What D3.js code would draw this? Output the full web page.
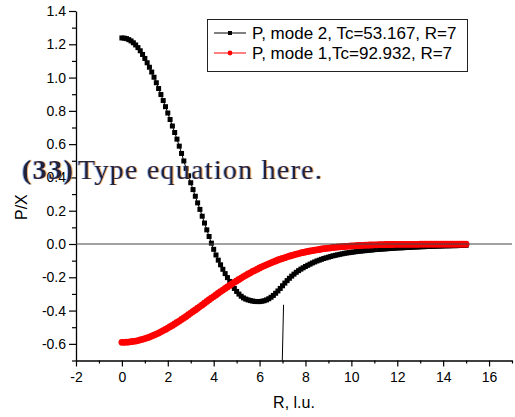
<!DOCTYPE html>
<html>
<head>
<meta charset="utf-8">
<script src="https://cdn.jsdelivr.net/npm/d3@7"></script>
<style>
  body { margin: 0; background: #fff; }
  svg { display: block; }
  .sans { font-family: "Liberation Sans", Arial, sans-serif; }
  .serif { font-family: "Liberation Serif", "Times New Roman", serif; }
</style>
</head>
<body>
<svg id="chart" width="515" height="417"></svg>
<script>
// Radial sampling grid (lattice units)
const radius = [
  0,0.1,0.2,0.3,0.4,0.5,0.6,0.7,0.8,0.9,1,1.1,1.2,1.3,1.4,1.5,1.6,1.7,1.8,1.9,
  2,2.1,2.2,2.3,2.4,2.5,2.6,2.7,2.8,2.9,3,3.1,3.2,3.3,3.4,3.5,3.6,3.7,3.8,3.9,
  4,4.1,4.2,4.3,4.4,4.5,4.6,4.7,4.8,4.9,5,5.1,5.2,5.3,5.4,5.5,5.6,5.7,5.8,5.9,
  6,6.1,6.2,6.3,6.4,6.5,6.6,6.7,6.8,6.9,7,7.1,7.2,7.3,7.4,7.5,7.6,7.7,7.8,7.9,
  8,8.1,8.2,8.3,8.4,8.5,8.6,8.7,8.8,8.9,9,9.1,9.2,9.3,9.4,9.5,9.6,9.7,9.8,9.9,
  10,10.1,10.2,10.3,10.4,10.5,10.6,10.7,10.8,10.9,11,11.1,11.2,11.3,11.4,11.5,11.6,11.7,11.8,11.9,
  12,12.1,12.2,12.3,12.4,12.5,12.6,12.7,12.8,12.9,13,13.1,13.2,13.3,13.4,13.5,13.6,13.7,13.8,13.9,
  14,14.1,14.2,14.3,14.4,14.5,14.6,14.7,14.8,14.9,15
];

// P, mode 2 (Tc = 53.167, R = 7)
const mode2P = [
  1.238,1.237,1.234,1.228,1.220,1.209,1.196,1.180,1.161,1.139,
  1.115,1.089,1.062,1.033,1.002,0.969,0.934,0.898,0.862,0.825,
  0.787,0.748,0.709,0.670,0.630,0.588,0.544,0.499,0.454,0.410,
  0.368,0.327,0.287,0.247,0.208,0.167,0.126,0.085,0.045,0.005,
  -0.032,-0.066,-0.097,-0.125,-0.152,-0.178,-0.202,-0.225,-0.247,-0.267,
  -0.285,-0.301,-0.314,-0.324,-0.331,-0.336,-0.340,-0.343,-0.345,-0.346,
  -0.346,-0.344,-0.341,-0.336,-0.329,-0.320,-0.309,-0.296,-0.282,-0.267,
  -0.251,-0.235,-0.220,-0.206,-0.193,-0.181,-0.170,-0.160,-0.151,-0.143,
  -0.135,-0.128,-0.121,-0.114,-0.108,-0.102,-0.097,-0.092,-0.087,-0.083,
  -0.079,-0.075,-0.071,-0.068,-0.065,-0.062,-0.059,-0.056,-0.054,-0.052,
  -0.050,-0.048,-0.046,-0.044,-0.043,-0.041,-0.040,-0.038,-0.037,-0.036,
  -0.034,-0.033,-0.032,-0.031,-0.030,-0.029,-0.028,-0.027,-0.026,-0.025,
  -0.024,-0.023,-0.023,-0.022,-0.021,-0.020,-0.020,-0.019,-0.018,-0.018,
  -0.017,-0.016,-0.016,-0.015,-0.015,-0.014,-0.014,-0.013,-0.013,-0.012,
  -0.012,-0.011,-0.011,-0.011,-0.010,-0.010,-0.010,-0.009,-0.009,-0.009,
  -0.008
];

// P, mode 1 (Tc = 92.932, R = 7)
const mode1P = [
  -0.591,-0.591,-0.590,-0.589,-0.587,-0.585,-0.583,-0.580,-0.576,-0.573,
  -0.568,-0.564,-0.559,-0.553,-0.547,-0.541,-0.535,-0.528,-0.520,-0.513,
  -0.505,-0.497,-0.489,-0.480,-0.471,-0.463,-0.453,-0.444,-0.435,-0.425,
  -0.415,-0.405,-0.396,-0.386,-0.376,-0.366,-0.356,-0.345,-0.335,-0.325,
  -0.316,-0.306,-0.296,-0.286,-0.277,-0.267,-0.258,-0.249,-0.239,-0.230,
  -0.222,-0.213,-0.205,-0.196,-0.188,-0.180,-0.173,-0.165,-0.158,-0.151,
  -0.144,-0.137,-0.131,-0.125,-0.119,-0.113,-0.107,-0.102,-0.096,-0.091,
  -0.087,-0.082,-0.077,-0.073,-0.069,-0.065,-0.061,-0.058,-0.054,-0.051,
  -0.048,-0.045,-0.042,-0.040,-0.037,-0.035,-0.033,-0.030,-0.028,-0.026,
  -0.025,-0.023,-0.021,-0.020,-0.018,-0.017,-0.016,-0.015,-0.014,-0.013,
  -0.012,-0.011,-0.010,-0.009,-0.009,-0.008,-0.007,-0.007,-0.006,-0.006,
  -0.005,-0.005,-0.004,-0.004,-0.004,-0.003,-0.003,-0.003,-0.003,-0.002,
  -0.002,-0.002,-0.002,-0.002,-0.002,-0.002,-0.002,-0.002,-0.002,-0.002,
  -0.001,-0.001,-0.001,-0.001,-0.001,-0.001,-0.001,-0.001,-0.001,-0.001,
  -0.001,-0.001,-0.001,-0.001,-0.001,-0.001,-0.001,-0.001,-0.001,-0.001,
  -0.001
];

// Pointer line near R = 7
const pointerR = [6.99, 7.045];
const pointerP = [-0.7, -0.365];

const xMajorTicks = [-2, 0, 2, 4, 6, 8, 10, 12, 14, 16];
const xMinorTicks = [-1, 1, 3, 5, 7, 9, 11, 13, 15, 17];
const yMajorTicks = [-0.6, -0.4, -0.2, 0, 0.2, 0.4, 0.6, 0.8, 1.0, 1.2, 1.4];
const yMinorTicks = [-0.7, -0.5, -0.3, -0.1, 0.1, 0.3, 0.5, 0.7, 0.9, 1.1, 1.3];

const seriesNames = ["P, mode 2, Tc=53.167, R=7", "P, mode 1,Tc=92.932, R=7"];
const seriesColors = ["#000000", "#ff0000"];
const xTitle = "R, l.u.";
const yTitle = "P/X";
const eqNumber = "(33)";
const eqText = "Type equation here.";

const svg = d3.select("#chart");
svg.append("rect").attr("width", 515).attr("height", 417).attr("fill", "#fff");

const x = d3.scaleLinear().domain([-2, 17]).range([76, 512]);
const y = d3.scaleLinear().domain([-0.7, 1.4]).range([360.5, 11]);

// Axes
const fmtY = v => v.toFixed(1);
const fmtX = v => String(v);

svg.append("g").attr("transform", "translate(76,0)")
  .call(d3.axisLeft(y).tickValues(yMajorTicks).tickFormat(fmtY)
    .tickSize(7).tickSizeOuter(0).tickPadding(3));
svg.append("g").attr("transform", "translate(76,0)")
  .call(d3.axisLeft(y).tickValues(yMinorTicks).tickFormat("")
    .tickSize(4).tickSizeOuter(0))
  .select(".domain").remove();

svg.append("g").attr("transform", "translate(0,360.5)")
  .call(d3.axisBottom(x).tickValues(xMajorTicks).tickFormat(fmtX)
    .tickSize(6).tickSizeOuter(0).tickPadding(6));
svg.append("g").attr("transform", "translate(0,360.5)")
  .call(d3.axisBottom(x).tickValues(xMinorTicks).tickFormat("")
    .tickSize(3).tickSizeOuter(0))
  .select(".domain").remove();

svg.selectAll(".domain").attr("stroke", "#000").attr("stroke-width", 1.3);
svg.selectAll(".tick line").attr("stroke", "#000").attr("stroke-width", 1.2);
svg.selectAll(".tick text")
  .attr("font-family", null)
  .attr("class", "sans")
  .attr("font-size", 14).attr("fill", "#000");

// Axis titles
svg.append("text").attr("class", "sans").attr("x", 294).attr("y", 408)
  .attr("text-anchor", "middle").attr("font-size", 16).text(xTitle);
svg.append("text").attr("class", "sans").attr("transform", "translate(27,220) rotate(-90)")
  .attr("text-anchor", "start").attr("font-size", 16).text(yTitle);

// Series
const ptsBlack = radius.map((r, i) => [r, mode2P[i]]);
const ptsRed = radius.map((r, i) => [r, mode1P[i]]);
const line = d3.line().x(d => x(d[0])).y(d => y(d[1]));

const gBlack = svg.append("g");
gBlack.append("path").datum(ptsBlack).attr("d", line)
  .attr("fill", "none").attr("stroke", seriesColors[0]).attr("stroke-width", 1);
gBlack.selectAll("rect").data(ptsBlack).join("rect")
  .attr("x", d => x(d[0]) - 2.5).attr("y", d => y(d[1]) - 2.5)
  .attr("width", 5).attr("height", 5).attr("fill", seriesColors[0]);

const gRed = svg.append("g");
gRed.append("path").datum(ptsRed).attr("d", line)
  .attr("fill", "none").attr("stroke", seriesColors[1]).attr("stroke-width", 1);
gRed.selectAll("circle").data(ptsRed).join("circle")
  .attr("cx", d => x(d[0])).attr("cy", d => y(d[1]))
  .attr("r", 3.4).attr("fill", seriesColors[1]);

// Zero reference line
svg.append("line")
  .attr("x1", x(-2)).attr("x2", x(17)).attr("y1", y(0)).attr("y2", y(0))
  .attr("stroke", "#444").attr("stroke-width", 1);

// Pointer line
svg.append("line")
  .attr("x1", x(pointerR[0])).attr("y1", y(pointerP[0]))
  .attr("x2", x(pointerR[1])).attr("y2", y(pointerP[1]))
  .attr("stroke", "#000").attr("stroke-width", 1);

// Legend
const lg = svg.append("g");
lg.append("rect").attr("x", 207.5).attr("y", 19.5).attr("width", 260).attr("height", 52)
  .attr("fill", "#fff").attr("stroke", "#222").attr("stroke-width", 1);
seriesNames.forEach((name, i) => {
  const cy = 33 + i * 20;
  lg.append("line").attr("x1", 214).attr("x2", 246).attr("y1", cy).attr("y2", cy)
    .attr("stroke", seriesColors[i]).attr("stroke-width", 1);
  if (i === 0) {
    lg.append("rect").attr("x", 228).attr("y", cy - 2).attr("width", 4).attr("height", 4)
      .attr("fill", seriesColors[i]);
  } else {
    lg.append("circle").attr("cx", 230).attr("cy", cy).attr("r", 2.4)
      .attr("fill", seriesColors[i]);
  }
  lg.append("text").attr("class", "sans").attr("x", 252).attr("y", cy + 6)
    .attr("font-size", 17).attr("fill", "#000").text(name);
});

// Equation placeholder overlay, with coloured sub-pixel edges
const defs = svg.append("defs");
const f = defs.append("filter").attr("id", "fringe")
  .attr("x", "-5%").attr("y", "-20%").attr("width", "110%").attr("height", "140%");
f.append("feOffset").attr("in", "SourceAlpha").attr("dx", 0.7).attr("result", "r");
f.append("feFlood").attr("flood-color", "#e0902e").attr("flood-opacity", 0.65);
f.append("feComposite").attr("in2", "r").attr("operator", "in").attr("result", "orange");
f.append("feOffset").attr("in", "SourceAlpha").attr("dx", -0.6).attr("result", "l");
f.append("feFlood").attr("flood-color", "#3a6fd0").attr("flood-opacity", 0.5);
f.append("feComposite").attr("in2", "l").attr("operator", "in").attr("result", "blue");
const fm = f.append("feMerge");
fm.append("feMergeNode").attr("in", "orange");
fm.append("feMergeNode").attr("in", "blue");
fm.append("feMergeNode").attr("in", "SourceGraphic");

const eq = svg.append("g").attr("filter", "url(#fringe)");
eq.append("text").attr("class", "serif").attr("x", 22).attr("y", 179)
  .attr("font-size", 28).attr("font-weight", "bold").attr("fill", "#22223a")
  .attr("textLength", 51).attr("lengthAdjust", "spacing").text(eqNumber);
eq.append("text").attr("class", "serif").attr("x", 78).attr("y", 179)
  .attr("font-size", 28).attr("fill", "#22223a")
  .attr("textLength", 244).attr("lengthAdjust", "spacing").text(eqText);
</script>
</body>
</html>
